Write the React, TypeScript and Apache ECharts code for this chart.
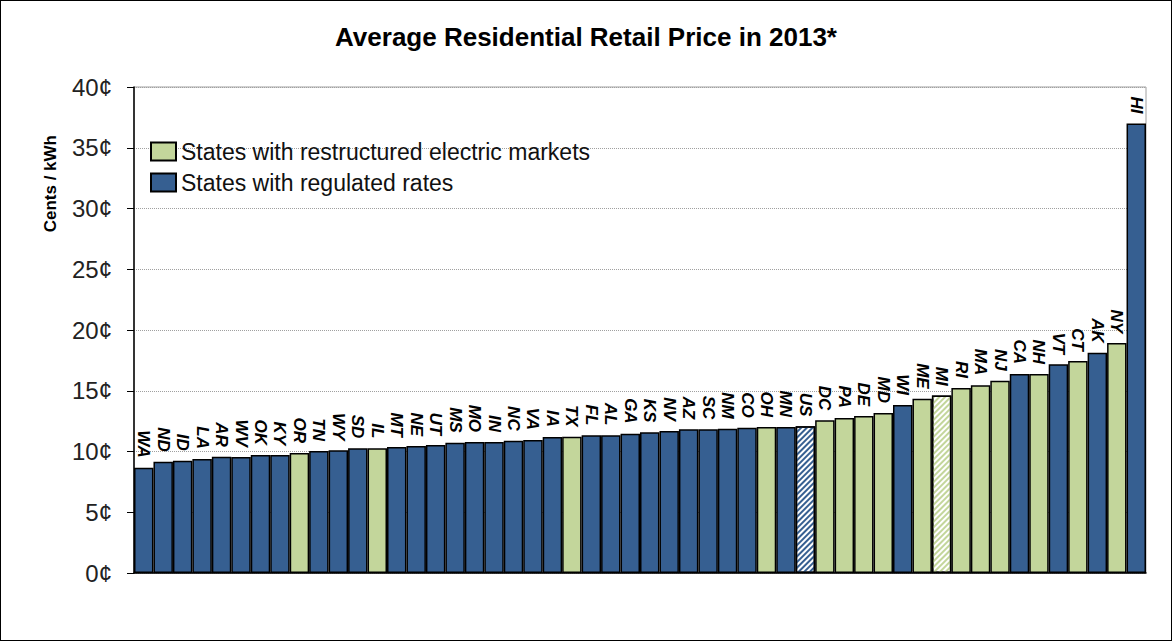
import React, { useEffect, useRef } from "react";
import * as echarts from "echarts";

const states = ["WA","ND","ID","LA","AR","WV","OK","KY","OR","TN","WY","SD","IL","MT","NE","UT","MS","MO","IN","NC","VA","IA","TX","FL","AL","GA","KS","NV","AZ","SC","NM","CO","OH","MN","US","DC","PA","DE","MD","WI","ME","MI","RI","MA","NJ","CA","NH","VT","CT","AK","NY","HI"];
const prices = [8.67,9.16,9.24,9.38,9.57,9.55,9.71,9.71,9.88,10.04,10.1,10.26,10.26,10.37,10.45,10.53,10.73,10.78,10.78,10.89,10.95,11.19,11.22,11.33,11.33,11.47,11.58,11.69,11.83,11.83,11.88,11.96,12.02,12.02,12.07,12.57,12.76,12.92,13.17,13.83,14.35,14.6,15.23,15.45,15.83,16.38,16.38,17.18,17.45,18.13,18.93,37.0];
// R = restructured, G = regulated
const groups = ["G","G","G","G","G","G","G","G","R","G","G","G","R","G","G","G","G","G","G","G","G","G","R","G","G","G","G","G","G","G","G","G","R","G","G","R","R","R","R","G","R","R","R","R","R","G","R","G","R","G","R","G"];
const hatched = ["US", "MI"];
const yTicks = [0, 5, 10, 15, 20, 25, 30, 35, 40];

const GREEN = "#C3D69B";
const BLUE = "#365F91";
const FONT = "'Liberation Sans', Arial, sans-serif";

export default function App() {
  const ref = useRef<HTMLDivElement>(null);
  useEffect(() => {
    document.body.style.margin = "0";
    const chart = echarts.init(ref.current!, null, { renderer: "svg" });
    const mk = (g: string, color: string) =>
      states.map((s, i) => {
        if (groups[i] !== g) return "-";
        if (hatched.includes(s)) {
          return {
            value: prices[i],
            itemStyle: {
              color: "#ffffff",
              decal: {
                symbol: "rect",
                symbolSize: 1,
                dashArrayX: [1, 0],
                dashArrayY: [2, 2],
                rotation: -Math.PI / 4,
                color: color,
              },
            },
          };
        }
        return prices[i];
      });
    const label = {
      show: true,
      position: "top",
      rotate: -90,
      align: "right",
      verticalAlign: "middle",
      distance: 10,
      formatter: "{b}",
      fontFamily: FONT,
      fontSize: 17,
      fontWeight: "bold",
      fontStyle: "italic",
      color: "#000",
    };
    chart.setOption({
      animation: false,
      textStyle: { fontFamily: FONT },
      title: {
        text: "Average Residential Retail Price in 2013*",
        left: "center",
        top: 19,
        textStyle: { fontFamily: FONT, fontSize: 26, fontWeight: "bold", color: "#000" },
      },
      legend: {
        orient: "vertical",
        left: 145,
        top: 135,
        itemGap: 8,
        itemWidth: 25,
        itemHeight: 18,
        icon: "rect",
        textStyle: { fontFamily: FONT, fontSize: 23, color: "#111" },
        data: ["States with restructured electric markets", "States with regulated rates"],
      },
      grid: {
        left: 134,
        right: 26,
        top: 87,
        bottom: 68,
        show: true,
        borderColor: "#a0a0a0",
        borderWidth: 1,
      },
      graphic: [
        {
          type: "text",
          left: 42,
          top: 135,
          rotation: Math.PI / 2,
          style: {
            text: "Cents / kWh",
            font: `bold 17px ${FONT}`,
            fill: "#000",
          },
        },
      ],
      xAxis: {
        type: "category",
        data: states,
        axisLine: { lineStyle: { color: "#000", width: 1.5 } },
        axisTick: { show: false },
        axisLabel: { show: false },
      },
      yAxis: {
        type: "value",
        min: yTicks[0],
        max: yTicks[yTicks.length - 1],
        interval: 5,
        axisLine: { show: true, lineStyle: { color: "#000", width: 1.5 } },
        axisTick: { show: true, length: 7, lineStyle: { color: "#000" } },
        axisLabel: {
          formatter: (v: number) => `${v}¢`,
          fontFamily: FONT,
          fontSize: 24,
          color: "#222",
          margin: 22,
        },
        splitLine: { lineStyle: { color: "#a0a0a0", type: "dotted", width: 1 } },
      },
      series: [
        {
          name: "States with restructured electric markets",
          type: "bar",
          stack: "all",
          barCategoryGap: "0%",
          data: mk("R", GREEN),
          itemStyle: { color: GREEN, borderColor: "#000", borderWidth: 1.5 },
          label,
        },
        {
          name: "States with regulated rates",
          type: "bar",
          stack: "all",
          barCategoryGap: "0%",
          data: mk("G", BLUE),
          itemStyle: { color: BLUE, borderColor: "#000", borderWidth: 1.5 },
          label,
        },
      ],
    });
    return () => chart.dispose();
  }, []);
  return (
    <div
      style={{
        width: 1172,
        height: 641,
        boxSizing: "border-box",
        border: "1px solid #000",
        position: "relative",
      }}
    >
      <div ref={ref} style={{ position: "absolute", left: -1, top: -1, width: 1172, height: 641 }} />
    </div>
  );
}
